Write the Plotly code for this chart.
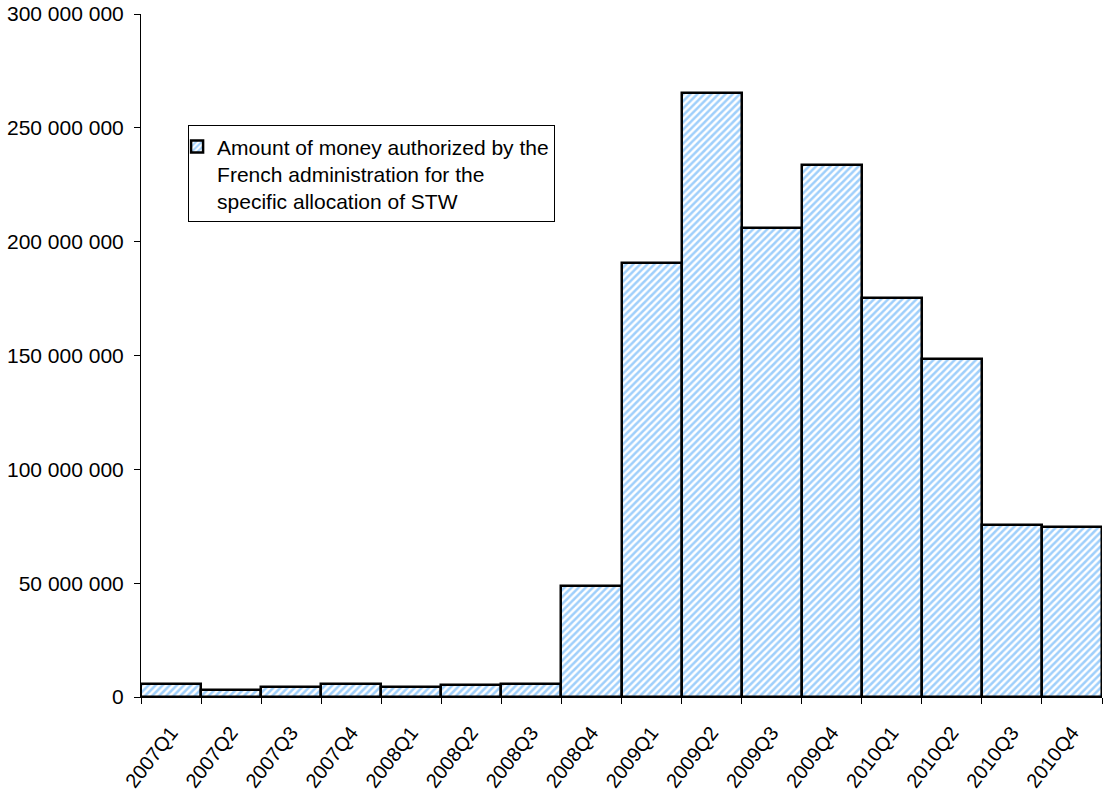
import plotly.graph_objects as go

# Quarterly amounts authorized for short-time work (STW) allocation, in euros
quarters = [
    "2007Q1", "2007Q2", "2007Q3", "2007Q4",
    "2008Q1", "2008Q2", "2008Q3", "2008Q4",
    "2009Q1", "2009Q2", "2009Q3", "2009Q4",
    "2010Q1", "2010Q2", "2010Q3", "2010Q4",
]
amounts = [
    5.9e6, 3.1e6, 4.3e6, 5.9e6,
    4.3e6, 5.1e6, 5.9e6, 48.8e6,
    190.5e6, 265.4e6, 205.9e6, 233.5e6,
    175.1e6, 148.3e6, 75.5e6, 74.7e6,
]
series_name = ("Amount of money authorized by the<br>"
               "French administration for the<br>"
               "specific allocation of STW")
y_ticks = [0, 50e6, 100e6, 150e6, 200e6, 250e6, 300e6]

FONT = "Liberation Sans, Arial, sans-serif"

fig = go.Figure()
fig.add_trace(go.Bar(
    x=quarters,
    y=amounts,
    name=series_name,
    showlegend=True,
    marker=dict(
        color="white",
        line=dict(color="black", width=2.5),
        pattern=dict(shape="/", fgcolor="#9fcffb", bgcolor="white",
                     size=5, solidity=0.5, fillmode="replace"),
    ),
))

fig.update_layout(
    width=1104,
    height=796,
    margin=dict(l=141, r=2, t=14, b=99),
    paper_bgcolor="white",
    plot_bgcolor="white",
    bargap=0,
    separators=". ",
    font=dict(family=FONT, size=20, color="black"),
    legend=dict(
        x=0.049, y=0.837, xanchor="left", yanchor="top",
        valign="top",
        bordercolor="black", borderwidth=1, bgcolor="white",
        font=dict(family=FONT, size=21, color="black"),
        indentation=-12,
        tracegroupgap=0,
    ),
    xaxis=dict(
        type="category",
        showline=True, linecolor="black", linewidth=1,
        ticks="outside", tickson="boundaries", ticklen=6,
        tickcolor="black", tickwidth=1,
        tickangle=-52,
        ticklabelstandoff=15,
        showgrid=False, zeroline=False,
        automargin=False,
        tickfont=dict(family=FONT, size=20, color="black"),
    ),
    yaxis=dict(
        range=[0, 300e6],
        tickvals=y_ticks,
        tickformat=",",
        showline=True, linecolor="black", linewidth=1,
        ticks="outside", ticklen=6, tickcolor="black", tickwidth=1,
        ticklabelstandoff=6,
        showgrid=False, zeroline=False,
        automargin=False,
        tickfont=dict(family=FONT, size=21, color="black"),
    ),
    yaxis2=dict(
        overlaying="y", side="left", anchor="x",
        range=[0, 300e6],
        tickvals=y_ticks,
        ticks="inside", ticklen=6, tickcolor="black", tickwidth=1,
        showticklabels=False, showline=False,
        showgrid=False, zeroline=False,
    ),
)

fig.write_html("out.html")
